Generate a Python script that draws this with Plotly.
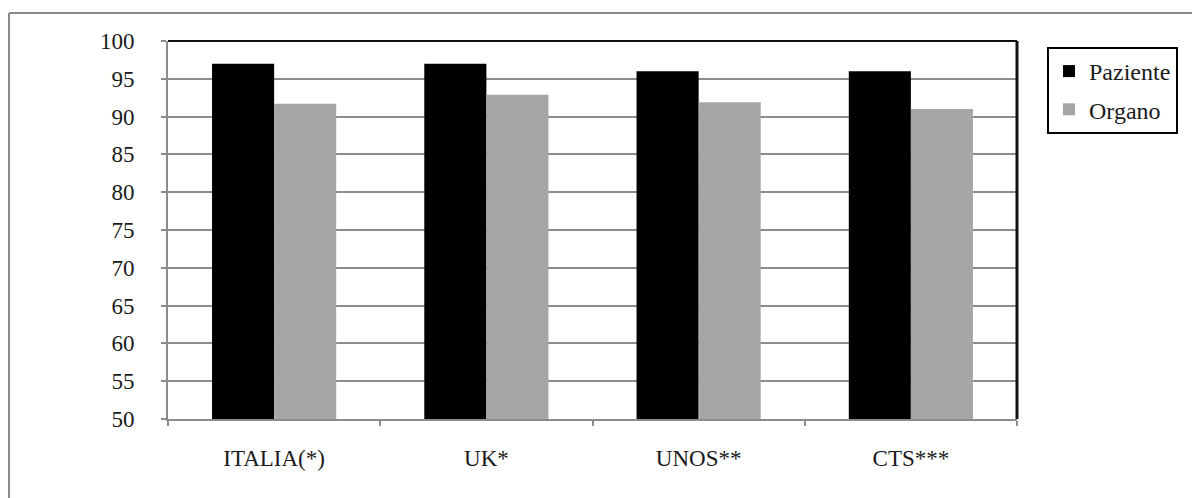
import plotly.graph_objects as go

# Survival data (%) by registry
categories = ["ITALIA(*)", "UK*", "UNOS**", "CTS***"]
paziente = [97, 97, 96, 96]
organo = [91.7, 92.9, 91.9, 91.0]
y_ticks = [50, 55, 60, 65, 70, 75, 80, 85, 90, 95, 100]

W, H = 1192, 498
L, R, T, B = 168, 175, 41, 79
plot_w = W - L - R
plot_h = H - T - B


def px_x(px):
    return (px - L) / plot_w


def px_y(py):
    return (H - B - py) / plot_h


serif = "Liberation Serif, Times New Roman, serif"
grid_gray = "#8c8c8c"
text_color = "#1a1a1a"

fig = go.Figure()
fig.add_trace(go.Bar(
    name="Paziente", x=categories, y=paziente,
    marker=dict(color="#000000", line=dict(width=0)),
    legendgroup="a",
))
fig.add_trace(go.Bar(
    name="Organo", x=categories, y=organo,
    marker=dict(color="#a6a6a6", line=dict(width=0)),
    legendgroup="b",
))

shapes = [
    # plot frame: black top and right edges
    dict(type="line", xref="paper", yref="paper", x0=0, x1=1, y0=1, y1=1,
         line=dict(color="#111111", width=2)),
    dict(type="line", xref="paper", yref="paper", x0=1, x1=1, y0=0, y1=1,
         line=dict(color="#111111", width=3)),
    # outer chart frame
    dict(type="line", xref="paper", yref="paper",
         x0=px_x(9), x1=px_x(1210), y0=px_y(13), y1=px_y(13),
         line=dict(color="#8a8a8a", width=2)),
    dict(type="line", xref="paper", yref="paper",
         x0=px_x(9), x1=px_x(9), y0=px_y(13), y1=px_y(520),
         line=dict(color="#8a8a8a", width=2)),
]

fig.update_layout(
    width=W, height=H,
    margin=dict(l=L, r=R, t=T, b=B, autoexpand=False),
    paper_bgcolor="white", plot_bgcolor="white",
    barmode="group", bargap=0.415, bargroupgap=0,
    font=dict(family=serif, size=23, color=text_color),
    showlegend=True,
    legend=dict(
        x=px_x(1047), y=px_y(47), xanchor="left", yanchor="top",
        bordercolor="#000000", borderwidth=2, bgcolor="white",
        font=dict(family=serif, size=24, color=text_color),
        traceorder="grouped", tracegroupgap=4,
        entrywidth=110,
    ),
    shapes=shapes,
)

fig.update_yaxes(
    range=[50, 100], tickvals=y_ticks, ticktext=[str(v) for v in y_ticks],
    showgrid=True, gridcolor=grid_gray, gridwidth=2,
    showline=True, linecolor=grid_gray, linewidth=2,
    ticks="outside", ticklen=5, tickcolor=grid_gray, tickwidth=2,
    ticklabelstandoff=22, zeroline=False,
    tickfont=dict(family=serif, size=23, color=text_color),
)
fig.update_xaxes(
    showline=True, linecolor=grid_gray, linewidth=2,
    ticks="outside", ticklen=5, tickcolor=grid_gray, tickwidth=2,
    tickson="boundaries", ticklabelstandoff=17, showgrid=False,
    tickfont=dict(family=serif, size=23, color=text_color),
)

fig.write_html("out.html")
